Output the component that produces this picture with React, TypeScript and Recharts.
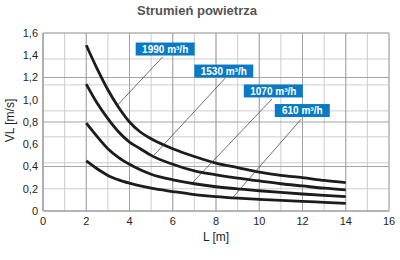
import React from 'react';
import { LineChart, Line, XAxis, YAxis, CartesianGrid, ReferenceLine, ReferenceDot, Label } from 'recharts';

const lengths = [2, 2.5, 3, 3.5, 4, 4.5, 5, 6, 7, 8, 9, 10, 11, 12, 13, 14];
const v1990 = [1.49, 1.28, 1.09, 0.93, 0.8, 0.71, 0.65, 0.56, 0.49, 0.43, 0.39, 0.35, 0.32, 0.3, 0.275, 0.255];
const v1530 = [1.14, 0.97, 0.83, 0.71, 0.62, 0.56, 0.5, 0.42, 0.36, 0.325, 0.295, 0.27, 0.245, 0.225, 0.205, 0.19];
const v1070 = [0.79, 0.67, 0.56, 0.48, 0.42, 0.37, 0.33, 0.28, 0.245, 0.218, 0.198, 0.182, 0.167, 0.153, 0.14, 0.129];
const v610 = [0.45, 0.38, 0.32, 0.28, 0.25, 0.225, 0.205, 0.175, 0.148, 0.129, 0.115, 0.104, 0.095, 0.087, 0.078, 0.069];

const seriesKeys = ['s1990', 's1530', 's1070', 's610'];
const seriesNames = ['1990 m³/h', '1530 m³/h', '1070 m³/h', '610 m³/h'];
const labelX = [5.65, 8.36, 10.65, 11.99];
const labelY = [1.456, 1.258, 1.079, 0.903];
const pointerStart = [
  { x: 5.54, y: 1.387 },
  { x: 8.43, y: 1.195 },
  { x: 10.59, y: 1.007 },
  { x: 11.93, y: 0.824 },
];
const pointerEnd = [
  { x: 3.38, y: 0.9375 },
  { x: 5.14, y: 0.503 },
  { x: 6.94, y: 0.26 },
  { x: 8.74, y: 0.114 },
];

const xTicks = [0, 2, 4, 6, 8, 10, 12, 14, 16];
const yTicks = [0, 0.2, 0.4, 0.6, 0.8, 1.0, 1.2, 1.4, 1.6];
const majorX = [0, 2, 4, 6, 8, 10, 12, 14, 16];
const majorY = [0, 0.4, 0.8, 1.2, 1.6];
const minorX = Array.from({ length: 33 }, (_, i) => i * 0.5);
const minorY = Array.from({ length: 49 }, (_, i) => (i * 1.6) / 48);

const data = lengths.map((x, i) => ({
  x,
  s1990: v1990[i],
  s1530: v1530[i],
  s1070: v1070[i],
  s610: v610[i],
}));

const FONT = '"Liberation Sans", Arial, Helvetica, sans-serif';

const fmt = (v: number) => (v === 0 ? '0' : v.toFixed(1).replace('.', ','));

const makeBadge = (text: string) => (props: any) => {
  const { cx, cy } = props;
  const w = text.length > 8 ? 59 : 55;
  const h = 13;
  return (
    <g>
      <rect x={cx - w / 2} y={cy - h / 2} width={w} height={h} fill="#0a7bc2" />
      <text
        x={cx}
        y={cy + 3.6}
        textAnchor="middle"
        fill="#fff"
        fontSize={10}
        fontWeight="bold"
        fontFamily={FONT}
      >
        {text}
      </text>
    </g>
  );
};

export default function App() {
  return (
    <div style={{ position: 'absolute', left: 0, top: 0, width: 400, height: 260, background: '#fff' }}>
      <div
        style={{
          position: 'absolute',
          left: 0,
          top: 3,
          width: 394,
          textAlign: 'center',
          fontFamily: FONT,
          fontWeight: 'bold',
          fontSize: 13,
          color: '#555',
          lineHeight: '15px',
        }}
      >
        Strumień powietrza
      </div>
      <LineChart
        width={400}
        height={260}
        data={data}
        margin={{ top: 33, right: 11, bottom: 0, left: 0 }}
      >
        <CartesianGrid
          stroke="#cdcdcd"
          strokeWidth={1}
          horizontalValues={minorY}
          verticalValues={minorX}
          fill="none"
        />
        <CartesianGrid
          stroke="#a4a4a4"
          strokeWidth={1}
          horizontalValues={majorY}
          verticalValues={majorX}
          fill="none"
        />
        <XAxis
          dataKey="x"
          type="number"
          domain={[0, 16]}
          ticks={xTicks}
          height={49}
          tickSize={0}
          tickMargin={6}
          axisLine={{ stroke: '#9a9a9a' }}
          tick={{ fill: '#1e1e1e', fontSize: 11, fontFamily: FONT }}
        >
          <Label
            content={() => (
              <text x={216} y={241} textAnchor="middle" fill="#1e1e1e" fontSize={12} fontFamily={FONT}>
                L [m]
              </text>
            )}
          />
        </XAxis>
        <YAxis
          type="number"
          domain={[0, 1.6]}
          ticks={yTicks}
          width={43}
          tickSize={0}
          tickMargin={5}
          tickFormatter={fmt}
          axisLine={{ stroke: '#9a9a9a' }}
          tick={{ fill: '#1e1e1e', fontSize: 11, fontFamily: FONT }}
        >
          <Label
            content={() => (
              <text
                x={14}
                y={120.5}
                transform="rotate(-90, 14, 120.5)"
                textAnchor="middle"
                fill="#1e1e1e"
                fontSize={12}
                fontFamily={FONT}
              >
                VL [m/s]
              </text>
            )}
          />
        </YAxis>
        {seriesKeys.map((k, i) => (
          <Line
            key={k}
            dataKey={k}
            name={seriesNames[i]}
            type="monotone"
            stroke="#1c1c1c"
            strokeWidth={2.8}
            dot={false}
            activeDot={false}
            isAnimationActive={false}
          />
        ))}
        {seriesKeys.map((k, i) => (
          <ReferenceLine
            key={'p' + k}
            segment={[pointerStart[i], pointerEnd[i]]}
            stroke="#333"
            strokeWidth={0.7}
          />
        ))}
        {seriesKeys.map((k, i) => (
          <ReferenceDot
            key={'b' + k}
            x={labelX[i]}
            y={labelY[i]}
            r={1}
            shape={makeBadge(seriesNames[i])}
          />
        ))}
      </LineChart>
    </div>
  );
}
